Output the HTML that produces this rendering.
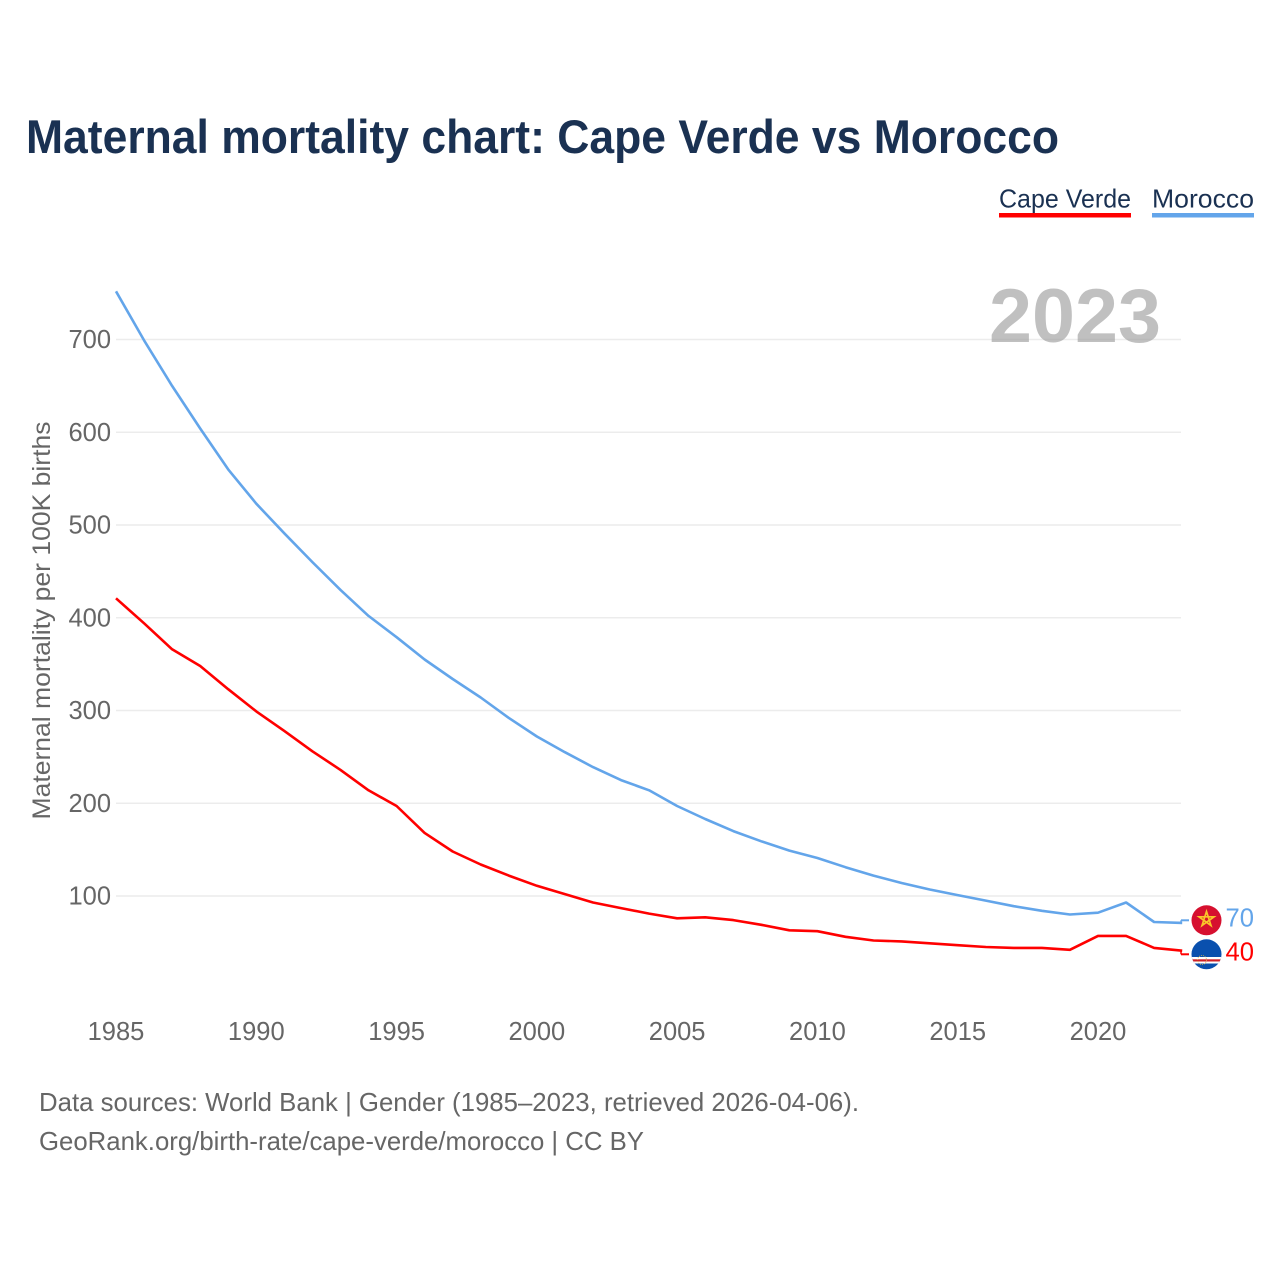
<!DOCTYPE html>
<html lang="en">
<head>
<meta charset="utf-8">
<title>Maternal mortality chart: Cape Verde vs Morocco</title>
<style>
html,body{margin:0;padding:0;background:#fff;}
svg{display:block;}
text{font-family:"Liberation Sans",sans-serif;}
</style>
</head>
<body>
<svg id="chart" xmlns="http://www.w3.org/2000/svg" width="1280" height="1280" viewBox="0 0 1280 1280">
  <defs>
    <clipPath id="clip-ma"><circle cx="1206.5" cy="920.3" r="15"/></clipPath>
    <clipPath id="clip-cv"><circle cx="1206.5" cy="954.3" r="15"/></clipPath>
  </defs>
  <rect width="1280" height="1280" fill="#fff"/>
  <text x="26" y="153" font-size="47" font-weight="700" fill="#1a3152" textLength="1033" lengthAdjust="spacingAndGlyphs">Maternal mortality chart: Cape Verde vs Morocco</text>

  <g>
    <g>
      <text x="999" y="207.5" font-size="26" fill="#1a3152" textLength="132" lengthAdjust="spacingAndGlyphs">Cape Verde</text>
      <rect x="999" y="213" width="132" height="4.5" fill="#ff0000"/>
    </g>
    <g>
      <text x="1152" y="207.5" font-size="26" fill="#1a3152" textLength="102" lengthAdjust="spacingAndGlyphs">Morocco</text>
      <rect x="1152" y="213" width="102" height="4.5" fill="#63a5ea"/>
    </g>
  </g>

  <g id="grid"></g>
  <text x="989" y="342" font-size="76" font-weight="700" fill="#999" fill-opacity="0.62" textLength="172" lengthAdjust="spacingAndGlyphs">2023</text>
  <g id="yticks"></g>
  <g id="xticks"></g>
  <text transform="translate(50,620.5) rotate(-90)" text-anchor="middle" font-size="25" fill="#666" textLength="398" lengthAdjust="spacingAndGlyphs">Maternal mortality per 100K births</text>

  <polyline id="line-cv" fill="none" stroke="#ff0000" stroke-width="2.6" stroke-linejoin="round"/>
  <polyline id="line-ma" fill="none" stroke="#63a5ea" stroke-width="2.6" stroke-linejoin="round"/>
  <line x1="1181" y1="923" x2="1181" y2="920.3" stroke="#63a5ea" stroke-width="1.5"/>
  <line x1="1181" y1="920.3" x2="1189" y2="920.3" stroke="#63a5ea" stroke-width="2"/>
  <line x1="1181" y1="951" x2="1181" y2="954.3" stroke="#ff0000" stroke-width="1.5"/>
  <line x1="1181" y1="954.3" x2="1189" y2="954.3" stroke="#ff0000" stroke-width="2"/>

  <g clip-path="url(#clip-ma)">
    <rect x="1190" y="904" width="33" height="33" fill="#d6102f"/>
    <polygon points="1206.5,911.5 1211,925.5 1199,916.8 1214,916.8 1202,925.5" fill="none" stroke="#f9c52a" stroke-width="1.7"/>
  </g>
  <g clip-path="url(#clip-cv)">
    <rect x="1190" y="938" width="33" height="33" fill="#0a50ae"/>
    <rect x="1190" y="957" width="33" height="6.5" fill="#fff"/>
    <rect x="1190" y="959.3" width="33" height="2.2" fill="#cf2027"/>
    <circle cx="1202" cy="960" r="4.5" fill="none" stroke="#d9b84a" stroke-width="0.8" stroke-dasharray="1 1"/>
  </g>
  <text id="end-ma" x="1225.5" y="926.5" font-size="25.5" fill="#63a5ea" textLength="28.5" lengthAdjust="spacingAndGlyphs"></text>
  <text id="end-cv" x="1225.5" y="960.5" font-size="25.5" fill="#ff0000" textLength="28.5" lengthAdjust="spacingAndGlyphs"></text>

  <text x="39" y="1111" font-size="26" fill="#666" textLength="820" lengthAdjust="spacingAndGlyphs">Data sources: World Bank | Gender (1985–2023, retrieved 2026-04-06).</text>
  <text x="39" y="1150" font-size="26" fill="#666" textLength="605" lengthAdjust="spacingAndGlyphs">GeoRank.org/birth-rate/cape-verde/morocco | CC BY</text>
</svg>
<script>
var years = [1985,1986,1987,1988,1989,1990,1991,1992,1993,1994,1995,1996,1997,1998,1999,2000,2001,2002,2003,2004,2005,2006,2007,2008,2009,2010,2011,2012,2013,2014,2015,2016,2017,2018,2019,2020,2021,2022,2023];
var morocco = [752,699,650,604,560,523,491,460,430,402,379,355,334,314,292,272,255,239,225,214,197,183,170,159,149,141,131,122,114,107,101,95,89,84,80,82,93,72,71];
var capeVerde = [421,394,366,348,323,299,278,256,236,214,197,168,148,134,122,111,102,93,87,81,76,77,74,69,63,62,56,52,51,49,47,45,44,44,42,57,57,44,41];
var yTickValues = [100,200,300,400,500,600,700];
var xTickValues = [1985,1990,1995,2000,2005,2010,2015,2020];
var endLabelMorocco = "70";
var endLabelCapeVerde = "40";

var NS = 'http://www.w3.org/2000/svg';
function xScale(year){ return 116 + (year - 1985) * (1098 - 116) / 35; }
function yScale(value){ return 896 - (value - 100) * (896 - 339.5) / 600; }
function pointsFor(series){
  return series.map(function(v, i){
    return xScale(years[i]).toFixed(1) + ',' + yScale(v).toFixed(1);
  }).join(' ');
}

var grid = document.getElementById('grid');
var yticks = document.getElementById('yticks');
yTickValues.forEach(function(v){
  var ln = document.createElementNS(NS, 'line');
  
  
  ln.setAttribute('x1', 116);
  ln.setAttribute('x2', 1181);
  ln.setAttribute('y1', yScale(v));
  ln.setAttribute('y2', yScale(v));
  ln.setAttribute('stroke', '#ececec');
  ln.setAttribute('stroke-width', '1.5');
  grid.appendChild(ln);
  var t = document.createElementNS(NS, 'text');
  
  
  t.setAttribute('x', 111);
  t.setAttribute('y', yScale(v) + 8.5);
  t.setAttribute('text-anchor', 'end');
  t.setAttribute('font-size', '25.5');
  t.setAttribute('fill', '#666');
  t.textContent = v;
  yticks.appendChild(t);
});

var xticks = document.getElementById('xticks');
xTickValues.forEach(function(y){
  var t = document.createElementNS(NS, 'text');
  
  
  t.setAttribute('x', xScale(y));
  t.setAttribute('y', 1040);
  t.setAttribute('text-anchor', 'middle');
  t.setAttribute('font-size', '25.5');
  t.setAttribute('fill', '#666');
  t.textContent = y;
  xticks.appendChild(t);
});

document.getElementById('line-ma').setAttribute('points', pointsFor(morocco));
document.getElementById('line-cv').setAttribute('points', pointsFor(capeVerde));
document.getElementById('end-ma').textContent = endLabelMorocco;
document.getElementById('end-cv').textContent = endLabelCapeVerde;
</script>
</body>
</html>
